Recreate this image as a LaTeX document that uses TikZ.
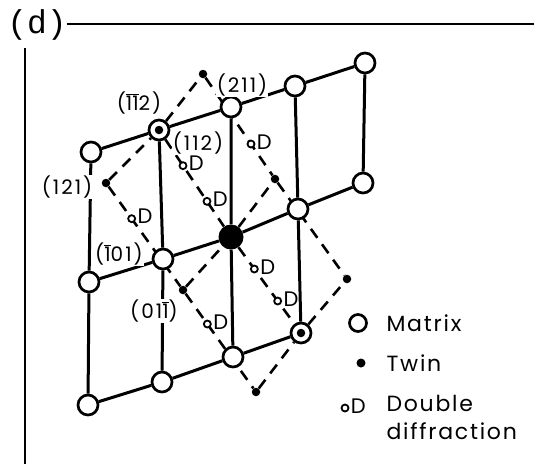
\documentclass[tikz,border=0pt]{standalone}
\usepackage{fontspec}
\setmainfont{Poppins}
\setmonofont{Liberation Mono}
\newfontfamily\keyfont[LetterSpace=8]{Poppins}
\newfontfamily\idxfont[LetterSpace=10]{Poppins}
\usetikzlibrary{calc,backgrounds}
\newcommand{\barone}{$\overline{\mbox{1}}$}

\begin{document}
\begin{tikzpicture}[x=1pt,y=-1pt,
    mat/.style={draw,circle,line width=2.7pt,fill=white,minimum size=20pt,inner sep=0pt},
    twin/.style={circle,fill,minimum size=8.5pt,inner sep=0pt},
    centre/.style={circle,fill,minimum size=25pt,inner sep=0pt},
    dd/.style={draw,circle,line width=1.8pt,fill=white,minimum size=7pt,inner sep=0pt,
      label={[label distance=-2pt,yshift=2pt,font=\fontsize{21}{24}\selectfont]0:D}},
    lbl/.style={fill=white,inner sep=1pt,font=\idxfont\fontsize{20}{24}\selectfont},
    matline/.style={line width=3pt},
    twinline/.style={line width=2.6pt,dash pattern=on 11pt off 8pt}]
    \useasboundingbox (0,0) rectangle (534,464);

    % frame
    \node[font=\ttfamily\fontsize{33}{33}\selectfont,inner sep=0pt] (tag) at (37,25) {(d)};
    \coordinate (fr) at (534,24);
    \coordinate (vt) at (25,48);
    \coordinate (vb) at (25,464);
    \draw[line width=2.2pt] (tag.east |- fr) -- (fr);
    \draw[line width=2.2pt] (vt) -- (vb);

    % matrix spots
    \node[mat] (p11) at (91,152) {};
    \node[mat] (p12) at (159,130) {};
    \node[mat] (p13) at (231,107) {};
    \node[mat] (p14) at (295,86) {};
    \node[mat] (p15) at (365,63) {};
    \node[mat] (p21) at (89,282) {};
    \node[mat] (p22) at (163,259) {};
    \node[centre] (p23) at (231,237) {};
    \node[mat] (p24) at (298,209) {};
    \node[mat] (p25) at (363,183) {};
    \node[mat] (p31) at (88,405) {};
    \node[mat] (p32) at (162,382) {};
    \node[mat] (p33) at (233,357) {};
    \node[mat] (p34) at (301,333) {};

    % twin spots
    \node[twin] (qa) at (203,74) {};
    \node[twin] (qb) at (106,183) {};
    \node[twin] (qc) at (275,179) {};
    \node[twin] (qd) at (183,290) {};
    \node[twin] (qe) at (347,279) {};
    \node[twin] (qf) at (256,392) {};
    \node[twin] (qg) at (p12) {};
    \node[twin] (qh) at (p34) {};

    \begin{scope}[on background layer]
      \draw[matline] (p11)--(p12)--(p13)--(p14)--(p15);
      \draw[matline] (p21)--(p22)--(p23)--(p24)--(p25);
      \draw[matline] (p31)--(p32)--(p33)--(p34);
      \draw[matline] (p11)--(p21)--(p31);
      \draw[matline] (p12)--(p22)--(p32);
      \draw[matline] (p13)--(p23)--(p33);
      \draw[matline] (p14)--(p24)--(p34);
      \draw[matline] (p15)--(p25);
      \draw[twinline] (qb)--(p12)--(qa);
      \draw[twinline] (qd)--(p23)--(qc);
      \draw[twinline] (qf)--(p34)--(qe);
      \draw[twinline] (qb)--(qd)--(qf);
      \draw[twinline] (p12)--(p23)--(p34);
      \draw[twinline] (qa)--(qc)--(qe);
    \end{scope}

    % double diffraction spots
    \node[dd] (d1) at ($(p12)!1/3!(p23)$) {};
    \node[dd] (d2) at ($(p12)!2/3!(p23)$) {};
    \node[dd] (d3) at ($(p23)!1/3!(p34)$) {};
    \node[dd] (d4) at ($(p23)!2/3!(p34)$) {};
    \node[dd] (d5) at ($(qb)!1/3!(qd)$) {};
    \node[dd] (d6) at ($(qd)!1/3!(qf)$) {};
    \node[dd] (d7) at ($(qa)!2/3!(qc)$) {};

    % indices
    \node[lbl] (l1) at (139,103) {(\barone\barone2)};
    \node[lbl] (l2) at (242,85) {(211)};
    \node[lbl] (l3) at (198,143) {(112)};
    \node[lbl] (l4) at (67,187) {(121)};
    \node[lbl] (l5) at (119,254) {(\barone01)};
    \node[lbl] (l6) at (154,311) {(01\barone)};

    % key
    \node[mat,minimum size=17pt] (km) at (358,323) {};
    \node[anchor=west,font=\keyfont\fontsize{22}{28}\selectfont] (kmt) at (383,323) {Matrix};
    \node[twin,minimum size=9pt] (kt) at (361,363) {};
    \node[anchor=west,font=\keyfont\fontsize{22}{28}\selectfont] (ktt) at (383,363) {Twin};
    \node[dd] (kd) at (345,408) {};
    \node[anchor=west,align=left,font=\keyfont\fontsize{22}{28}\selectfont] (kdt) at (383,417) {Double\\diffraction};
\end{tikzpicture}
\end{document}
